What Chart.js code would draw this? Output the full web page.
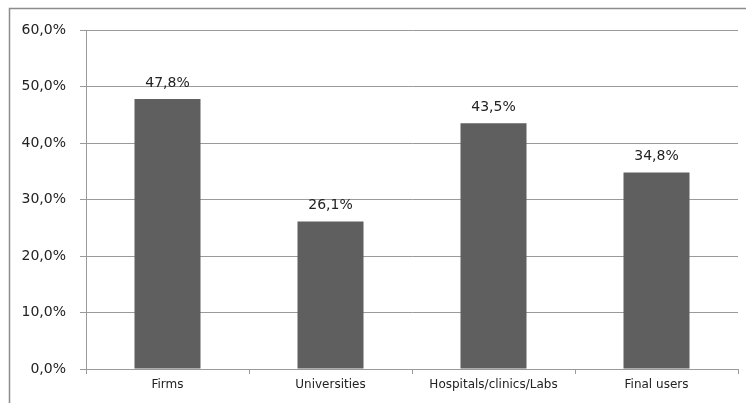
<!DOCTYPE html>
<html>
<head>
<meta charset="utf-8">
<script src="https://cdn.jsdelivr.net/npm/chart.js@4"></script>
<style>
  html, body { margin: 0; padding: 0; background: #fff; overflow: hidden; }
  #wrap { width: 746px; height: 403px; position: relative; }
</style>
</head>
<body>
<div id="wrap"><canvas id="chart"></canvas></div>
<script>
const categories = ['Firms', 'Universities', 'Hospitals/clinics/Labs', 'Final users'];
const shares = [47.8, 26.1, 43.5, 34.8];
const yMin = 0;
const yMax = 60;
const yStep = 10;

const fmt = v => v.toFixed(1).replace('.', ',') + '%';

// outer frame: only top and left edges are inside the picture
const framePlugin = {
    id: 'frame',
    beforeDraw(chart) {
        const c = chart.ctx;
        c.save();
        c.fillStyle = '#fff';
        c.fillRect(0, 0, chart.width, chart.height);
        c.strokeStyle = '#8c8c8c';
        c.lineWidth = 1.5;
        c.beginPath();
        c.moveTo(9.5, chart.height);
        c.lineTo(9.5, 8.5);
        c.lineTo(chart.width, 8.5);
        c.stroke();
        c.restore();
    }
};

// value labels above bars
const valueLabels = {
    id: 'valueLabels',
    afterDatasetsDraw(chart) {
        const c = chart.ctx;
        const meta = chart.getDatasetMeta(0);
        c.save();
        c.font = '14px "DejaVu Sans"';
        c.fillStyle = '#222';
        c.textAlign = 'center';
        c.textBaseline = 'middle';
        meta.data.forEach((bar, i) => {
            c.fillText(fmt(shares[i]), bar.x, bar.y - 16);
        });
        c.restore();
    }
};

new Chart(document.getElementById('chart'), {
    type: 'bar',
    data: {
        labels: categories,
        datasets: [{
            data: shares,
            backgroundColor: '#5f5f5f',
            borderWidth: 0,
            barPercentage: 1,
            categoryPercentage: 0.405
        }]
    },
    options: {
        responsive: true,
        maintainAspectRatio: false,
        animation: false,
        layout: { padding: { top: 30, right: 8, left: 0, bottom: 0 } },
        scales: {
            x: {
                grid: {
                    drawOnChartArea: false,
                    drawTicks: true,
                    tickLength: 5,
                    color: '#9a9a9a'
                },
                border: { color: '#9a9a9a' },
                ticks: {
                    color: '#222',
                    padding: 4,
                    font: { family: 'DejaVu Sans', size: 12 }
                },
                afterFit(scale) { scale.height = 34; }
            },
            y: {
                min: yMin,
                max: yMax,
                grid: {
                    color: '#9a9a9a',
                    tickLength: 6
                },
                border: { color: '#9a9a9a' },
                ticks: {
                    stepSize: yStep,
                    color: '#222',
                    padding: 14,
                    font: { family: 'DejaVu Sans', size: 14 },
                    callback: v => fmt(v)
                },
                afterFit(scale) { scale.width = 86; }
            }
        },
        plugins: {
            legend: { display: false },
            tooltip: { enabled: false }
        }
    },
    plugins: [framePlugin, valueLabels]
});
</script>
</body>
</html>
